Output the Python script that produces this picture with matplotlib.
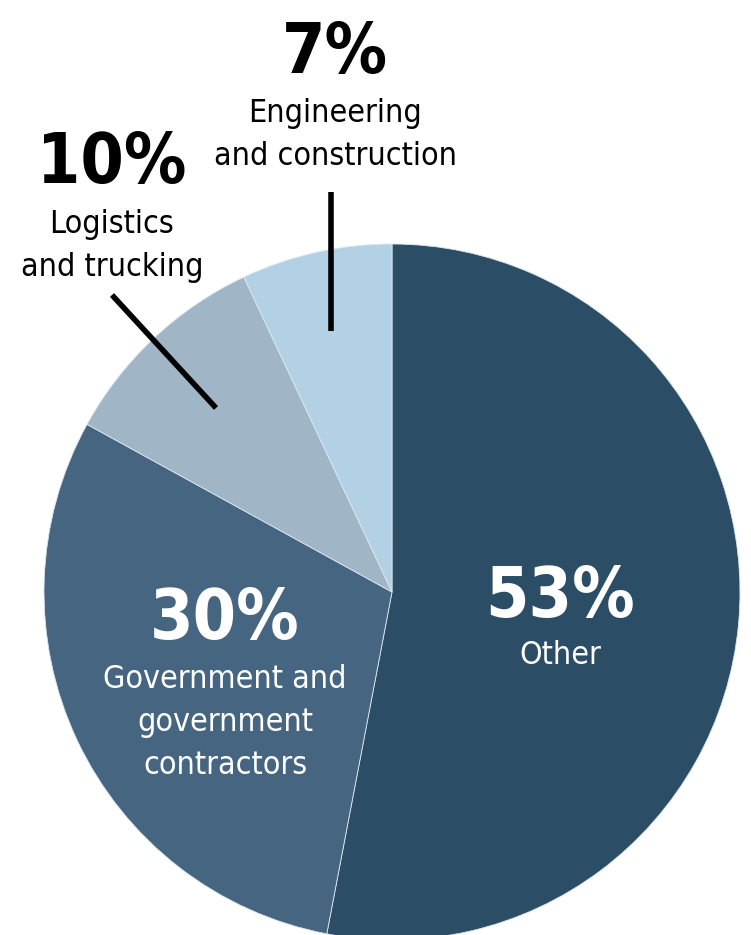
import matplotlib.pyplot as plt

names = ["Other", "Government and\ngovernment\ncontractors", "Logistics\nand trucking", "Engineering\nand construction"]
shares = [53, 30, 10, 7]
colors = ["#2c4d66", "#466580", "#a0b6c6", "#b3d1e4"]

W, H = 751, 935
fig = plt.figure(figsize=(W / 100, H / 100), dpi=100)
ax = fig.add_axes([0, 0, 1, 1])

ax.pie(shares, colors=colors, startangle=90, counterclock=False,
       center=(392, H - 592), radius=348,
       wedgeprops=dict(edgecolor="#dde6ee", linewidth=0.6))
ax.set_xlim(0, W)
ax.set_ylim(0, H)
ax.set_aspect("equal")
ax.axis("off")

fam = ["DejaVu Sans"]
big = dict(family=fam, stretch="condensed", weight="bold", ha="center", va="center")
small = dict(family=fam, stretch="condensed", ha="center", va="center", linespacing=1.5)

# inside labels
ax.text(560, H - 598, f"{shares[0]}%", color="white", fontsize=50, **big)
ax.text(560, H - 656, names[0], color="white", fontsize=23, **small)
ax.text(225, H - 620, f"{shares[1]}%", color="white", fontsize=50, **big)
ax.text(225, H - 723, names[1], color="white", fontsize=23, **small)

# outside labels
ax.text(112, H - 163, f"{shares[2]}%", color="black", fontsize=50, **big)
ax.text(112, H - 246, names[2], color="black", fontsize=23, **small)
ax.text(335, H - 53, f"{shares[3]}%", color="black", fontsize=50, **big)
ax.text(335, H - 135, names[3], color="black", fontsize=23, **small)

# leader lines
ax.plot([331, 331], [H - 192, H - 331], color="black", lw=4, solid_capstyle="butt")
ax.plot([112, 216], [H - 295, H - 408], color="black", lw=4, solid_capstyle="butt")

fig.savefig("out.png", dpi=100)
